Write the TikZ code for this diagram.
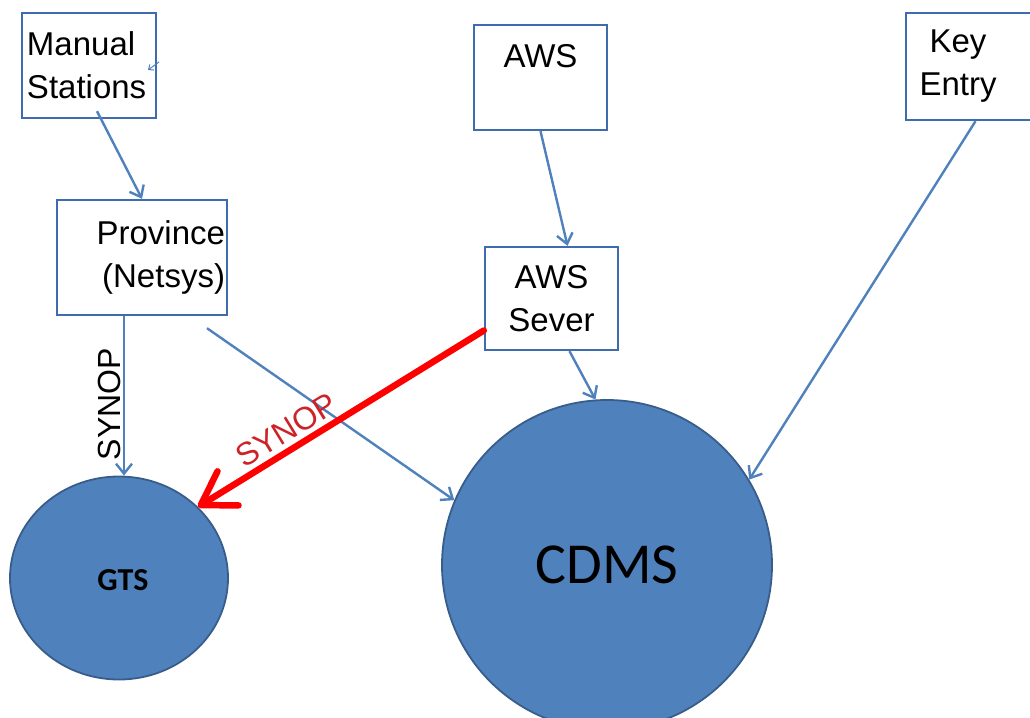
\documentclass[tikz,border=0pt]{standalone}
\usepackage{fontspec}
\setmainfont{Liberation Sans}
\newfontfamily\calibri{Carlito}
\usetikzlibrary{arrows.meta,shapes.geometric}
\definecolor{boxblue}{RGB}{62,108,174}
\definecolor{lineblue}{RGB}{79,129,189}
\definecolor{fillblue}{RGB}{79,129,189}
\definecolor{rimblue}{RGB}{56,93,138}
\definecolor{arrowred}{RGB}{255,0,0}
\definecolor{labelred}{RGB}{205,35,40}
\tikzset{
  boxnode/.style={draw=boxblue, line width=2.4pt, fill=white, inner sep=0pt,
    font=\fontsize{33}{43}\selectfont},
  disc/.style={fill=fillblue, draw=rimblue, line width=1.8pt, inner sep=0pt},
  flow/.style={draw=lineblue, line width=2.4pt, -{Straight Barb[length=10pt,width=16pt]}},
  redflow/.style={draw=arrowred, line width=6.5pt, line cap=round, -{Straight Barb[length=32pt,width=40pt,round]}},
  lbl/.style={font=\fontsize{32}{36}\selectfont, inner sep=0pt}
}
\begin{document}
\begin{tikzpicture}[x=1pt,y=-1pt]
\useasboundingbox (0,0) rectangle (1030,717);
\clip (0,0) rectangle (1030,717);
% circles
\node[disc, circle, minimum size=330pt] (cdms) at (607,565) {};
\node[font=\calibri\fontsize{58}{60}\selectfont] (cdmstext) at (607,565) {CDMS};
\node[disc, ellipse, minimum width=218pt, minimum height=203pt] (gts) at (119,578) {};
\node[font=\calibri\bfseries\fontsize{32}{34}\selectfont] (gtstext) at (123,580) {GTS};
% boxes
\node[boxnode, minimum width=134pt, minimum height=105pt, text width=124pt, align=left] (ms) at (89,65.5) {Manual\\Stations};
\node[boxnode, minimum width=170pt, minimum height=115pt, text width=166pt, align=right] (prov) at (142,257.5) {Province\\(Netsys)};
\node[boxnode, minimum width=133pt, minimum height=105pt, align=center] (aws) at (540.5,77.5) {AWS\\\mbox{}};
\node[boxnode, minimum width=133pt, minimum height=103pt, align=center] (awss) at (551.5,298.5) {AWS\\Sever};
\node[boxnode, minimum width=139pt, minimum height=107pt,
  label={[name=keytext, align=center, xshift=-17.5pt, font=\fontsize{33}{43}\selectfont]center:Key\\Entry}] (key) at (975.5,66.5) {};
% stray mark
\coordinate (strayA) at (159,62);
\coordinate (strayB) at (148,70);
\draw[draw=lineblue, line width=1pt, -{Straight Barb[length=4pt,width=7pt]}] (strayA) -- (strayB);
% connectors
\draw[flow] ([xshift=8pt,yshift=8pt]ms.south) -- (prov.north);
\coordinate (synTop) at ([xshift=-18pt]prov.south);
\draw[flow] (synTop) -- (synTop |- gts.north);
\draw[flow] ([xshift=65pt,yshift=-12pt]prov.south) -- (cdms.157);
\draw[flow] (aws.south) -- ([xshift=16pt]awss.north);
\draw[flow] ([xshift=18pt]awss.south) -- (cdms.94);
\draw[flow] (key.south) -- (cdms.31);
\draw[redflow] ([yshift=-32pt]awss.west) -- (gts.42);
% labels
\node[lbl, rotate=90] (synop1) at (109,404) {SYNOP};
\node[lbl, rotate=31.5, text=labelred] (synop2) at (286,430) {SYNOP};
\end{tikzpicture}
\end{document}
